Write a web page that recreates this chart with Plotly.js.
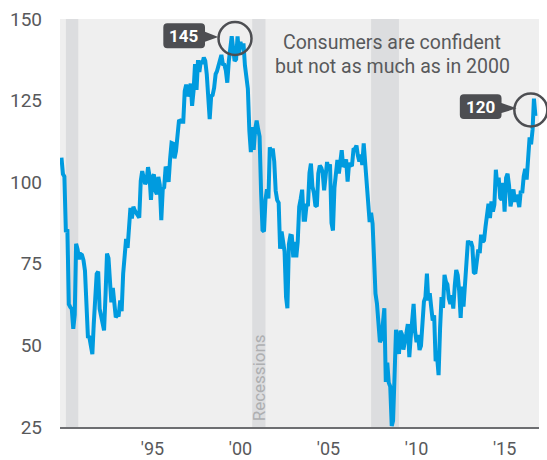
<!DOCTYPE html>
<html><head><meta charset="utf-8">
<script src="https://cdn.plot.ly/plotly-3.0.1.min.js"></script>
<style>html,body{margin:0;padding:0;background:#fff;}#chart{width:547px;height:460px;}</style>
</head><body><div id="chart"></div>
<script>
// Consumer confidence index, monthly, starting May 1990
const startYear = 1990, startMonth = 5;
const cci1990 = [107.5, 102.5, 101.7, 84.7, 85.6, 62.6, 61.7, 61.2];
const cci1991 = [55.1, 59.4, 81.1, 79.4, 76.4, 78.0, 77.7, 76.1, 72.9, 60.1, 52.7, 52.5];
const cci1992 = [50.2, 47.3, 56.5, 65.1, 71.9, 72.6, 61.2, 59.0, 57.3, 54.6, 65.6, 78.1];
const cci1993 = [76.7, 68.5, 63.2, 67.6, 61.9, 58.6, 59.2, 59.3, 63.8, 60.5, 71.9, 79.8];
const cci1994 = [82.6, 79.9, 86.7, 92.1, 88.9, 92.5, 91.3, 90.4, 89.5, 89.1, 100.4, 103.4];
const cci1995 = [101.4, 99.4, 100.2, 104.6, 102.0, 94.6, 101.4, 102.4, 97.3, 96.3, 101.6, 99.2];
const cci1996 = [88.4, 98.0, 98.4, 104.8, 103.5, 100.1, 107.0, 112.0, 111.8, 107.3, 109.5, 114.2];
const cci1997 = [118.7, 118.9, 118.5, 118.5, 127.9, 129.9, 126.3, 127.6, 130.2, 123.4, 128.1, 136.2];
const cci1998 = [128.3, 137.4, 133.8, 137.2, 136.3, 138.2, 137.2, 133.1, 126.4, 119.3, 126.4, 126.7];
const cci1999 = [128.9, 133.1, 134.0, 135.5, 137.7, 139.0, 136.2, 136.0, 134.2, 130.5, 137.0, 141.7];
const cci2000 = [144.7, 140.8, 137.1, 137.7, 144.7, 139.2, 143.0, 140.8, 142.5, 135.8, 132.6, 128.6];
const cci2001 = [115.7, 109.2, 116.9, 109.9, 116.1, 118.9, 116.3, 114.0, 97.0, 85.3, 84.9, 94.6];
const cci2002 = [97.8, 95.0, 110.7, 108.5, 110.3, 106.3, 97.4, 94.5, 93.7, 79.6, 84.9, 80.7];
const cci2003 = [78.8, 64.8, 61.4, 81.0, 83.6, 83.5, 77.0, 81.7, 77.0, 81.7, 92.5, 94.8];
const cci2004 = [97.7, 88.5, 88.5, 93.0, 93.1, 102.8, 105.7, 98.7, 96.7, 92.9, 92.6, 102.7];
const cci2005 = [105.1, 104.4, 103.0, 97.5, 103.1, 106.2, 103.6, 105.5, 87.5, 85.2, 98.3, 103.8];
const cci2006 = [106.8, 102.7, 107.5, 109.8, 104.7, 105.4, 107.0, 100.2, 105.9, 105.1, 105.3, 110.0];
const cci2007 = [110.2, 111.2, 108.2, 106.3, 108.5, 105.3, 111.9, 105.6, 99.5, 95.2, 87.8, 90.6];
const cci2008 = [87.3, 76.4, 65.9, 62.8, 58.1, 51.0, 51.9, 58.5, 61.4, 38.8, 44.7, 38.6];
const cci2009 = [37.4, 25.3, 26.9, 40.8, 54.8, 49.3, 47.4, 54.5, 53.4, 48.7, 50.6, 53.6];
const cci2010 = [56.5, 46.4, 52.3, 57.7, 62.7, 54.3, 51.0, 53.2, 48.6, 49.9, 57.8, 63.4];
const cci2011 = [64.8, 72.0, 63.8, 66.0, 61.7, 57.6, 59.2, 45.2, 46.4, 40.9, 55.2, 64.8];
const cci2012 = [61.5, 71.6, 69.5, 68.7, 64.4, 62.7, 65.4, 61.3, 68.4, 73.1, 71.5, 66.7];
const cci2013 = [58.4, 68.0, 61.9, 69.0, 76.2, 82.1, 81.0, 81.8, 80.2, 72.4, 72.0, 77.5];
const cci2014 = [79.4, 78.3, 83.9, 81.7, 82.2, 86.4, 90.3, 93.4, 89.0, 94.1, 91.0, 93.1];
const cci2015 = [103.8, 98.8, 101.4, 95.2, 94.6, 99.8, 91.0, 101.3, 102.6, 99.1, 92.6, 96.3];
const cci2016 = [97.8, 94.0, 96.1, 94.7, 92.4, 97.4, 96.7, 101.8, 104.1, 100.8, 109.4, 113.7];
const cci2017 = [111.6, 116.1, 125.6, 120.3];

const recessionStart = ['1990-08-01', '2001-03-01', '2007-12-01'];
const recessionEnd   = ['1991-04-15', '2001-12-01', '2009-07-01'];

const tickYears = [1995, 2000, 2005, 2010, 2015];
const tickText = ["'95", "'00", "'05", "'10", "'15"];
const yTicks = [25, 50, 75, 100, 125, 150];

const calloutLabels = ['145', '120'];
const noteLines = ['Consumers are confident', 'but not as much as in 2000'];
const recessionLabel = 'Recessions';

// build monthly series
const yearly = [cci1990, cci1991, cci1992, cci1993, cci1994, cci1995, cci1996, cci1997, cci1998, cci1999,
  cci2000, cci2001, cci2002, cci2003, cci2004, cci2005, cci2006, cci2007, cci2008, cci2009,
  cci2010, cci2011, cci2012, cci2013, cci2014, cci2015, cci2016, cci2017];
const dates = [], values = [];
let yy = startYear, mm = startMonth;
yearly.forEach(arr => arr.forEach(v => {
  dates.push(yy + '-' + String(mm).padStart(2, '0') + '-01');
  values.push(v);
  mm++; if (mm > 12) { mm = 1; yy++; }
}));

const xR0 = '1990-04-01', xR1 = '2017-06-14', yR0 = 25, yR1 = 150;
const t0 = Date.parse(xR0), t1 = Date.parse(xR1);
const xPaper = d => (Date.parse(d) - t0) / (t1 - t0);
const yPaper = v => (v - yR0) / (yR1 - yR0);

const FONT = 'Roboto, "Liberation Sans", sans-serif';
const DARK = '#4D4E52';
const TXT = '#58595B';

// callout anchors from data
const peak1 = values.indexOf(Math.max(...cci2000));
const peak2 = values.length - cci2017.length + cci2017.indexOf(Math.max(...cci2017));

function bubblePath(L, R, T, B, r, tailTop, tailBot, tipX, tipY) {
  return `M ${L + r},${T} L ${R - r},${T} Q ${R},${T} ${R},${T - r} L ${R},${tailTop} L ${tipX},${tipY} L ${R},${tailBot} L ${R},${B + r} Q ${R},${B} ${R - r},${B} L ${L + r},${B} Q ${L},${B} ${L},${B + r} L ${L},${T - r} Q ${L},${T} ${L + r},${T} Z`;
}

const shapes = [];
recessionStart.forEach((s, i) => shapes.push({
  type: 'rect', xref: 'x', yref: 'paper', x0: s, x1: recessionEnd[i], y0: 0, y1: 1,
  fillcolor: '#DCDDDF', line: { width: 0 }, layer: 'below'
}));

const callouts = [
  { idx: peak1, circle: [-13.2, 19.8, -18.7, 14.3], box: [-68.4, -26.7, 13, -12, 4.6, -5.4, -13.4, -0.7], text: [-47.5, 0.5] },
  { idx: peak2, circle: [-19.6, 13.4, -27.9, 5.1], box: [-74.1, -32.4, 4.3, -20.4, -4.4, -14.4, -17.4, -9.7], text: [-53.2, -8.1] }
];
const annotations = [];
callouts.forEach((c, i) => {
  const ax = xPaper(dates[c.idx]), ay = yPaper(values[c.idx]);
  shapes.push({
    type: 'circle', xref: 'paper', yref: 'paper', xsizemode: 'pixel', ysizemode: 'pixel',
    xanchor: ax, yanchor: ay, x0: c.circle[0], x1: c.circle[1], y0: c.circle[2], y1: c.circle[3],
    line: { color: DARK, width: 2.5 }, fillcolor: 'rgba(0,0,0,0)', layer: 'above'
  });
  const b = c.box;
  shapes.push({
    type: 'path', xref: 'paper', yref: 'paper', xsizemode: 'pixel', ysizemode: 'pixel',
    xanchor: ax, yanchor: ay, path: bubblePath(b[0], b[1], b[2], b[3], 4, b[4], b[5], b[6], b[7]),
    fillcolor: DARK, line: { width: 0 }, layer: 'above'
  });
  annotations.push({
    xref: 'paper', yref: 'paper', x: ax, y: ay, xshift: c.text[0], yshift: c.text[1],
    text: calloutLabels[i], showarrow: false, xanchor: 'center', yanchor: 'middle',
    font: { family: FONT, size: 17, color: '#FFFFFF', weight: 'bold' }
  });
});

annotations.push({
  xref: 'paper', yref: 'paper', x: 0.6937, y: 0.9424, text: noteLines[0], showarrow: false,
  xanchor: 'center', yanchor: 'middle', font: { family: FONT, size: 19.5, color: TXT }
});
annotations.push({
  xref: 'paper', yref: 'paper', x: 0.6937, y: 0.8848, text: noteLines[1], showarrow: false,
  xanchor: 'center', yanchor: 'middle', font: { family: FONT, size: 19.5, color: TXT }
});
annotations.push({
  xref: 'x', yref: 'paper', x: '2001-07-16', y: 0.1213, text: recessionLabel, textangle: -90, showarrow: false,
  xanchor: 'center', yanchor: 'middle', font: { family: FONT, size: 17, color: '#AEAFB1' }
});

const trace = {
  type: 'scatter', mode: 'lines', x: dates, y: values,
  line: { color: '#009BDF', width: 4 }, hoverinfo: 'skip'
};

const layout = {
  width: 547, height: 460,
  margin: { l: 60, r: 8, t: 19, b: 33, pad: 0 },
  paper_bgcolor: '#FFFFFF', plot_bgcolor: '#EFEFEF',
  showlegend: false,
  font: { family: FONT, color: TXT },
  xaxis: {
    type: 'date', range: [xR0, xR1], showgrid: false, zeroline: false,
    showline: true, linecolor: '#6D6E71', linewidth: 2, ticks: '',
    tickvals: tickYears.map(y => y + '-07-01'), ticktext: tickText,
    tickfont: { family: FONT, size: 18, color: TXT }, ticklabelstandoff: 4
  },
  yaxis: {
    range: [yR0, yR1], showgrid: false, zeroline: false, showline: false, ticks: '',
    tickvals: yTicks, ticktext: yTicks.map(String),
    tickfont: { family: FONT, size: 19, color: TXT }, ticklabelstandoff: 17
  },
  shapes: shapes,
  annotations: annotations
};

Plotly.newPlot('chart', [trace], layout, { staticPlot: true, displayModeBar: false });
</script>
</body></html>
